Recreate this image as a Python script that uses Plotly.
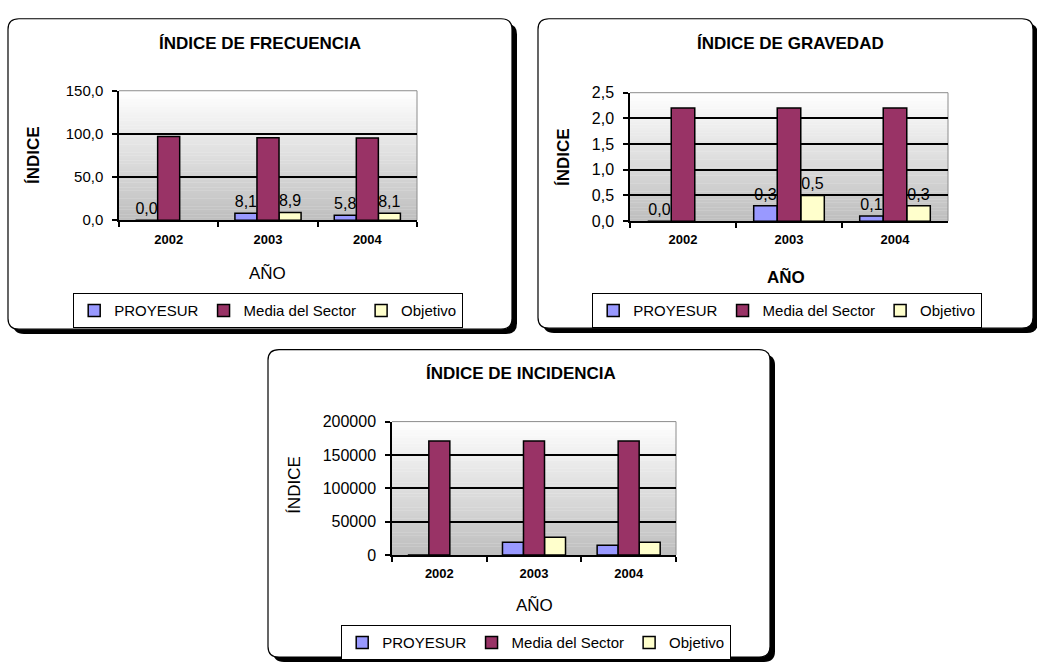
import plotly.graph_objects as go

# ---- data -------------------------------------------------------------
YEARS = ["2002", "2003", "2004"]
SERIES = ["PROYESUR", "Media del Sector", "Objetivo"]

# Índice de frecuencia
FREQ_PROYESUR = [0.0, 8.1, 5.8]
FREQ_MEDIA = [96.9, 95.6, 95.2]
FREQ_OBJETIVO = [None, 8.9, 8.1]
FREQ_TICKS = [0, 50, 100, 150]

# Índice de gravedad
GRAV_PROYESUR = [0.0, 0.3, 0.1]
GRAV_MEDIA = [2.2, 2.2, 2.2]
GRAV_OBJETIVO = [None, 0.5, 0.3]
GRAV_TICKS = [0, 0.5, 1.0, 1.5, 2.0, 2.5]

# Índice de incidencia
INC_PROYESUR = [0, 19000, 14500]
INC_MEDIA = [171000, 171000, 171000]
INC_OBJETIVO = [None, 26500, 19000]
INC_TICKS = [0, 50000, 100000, 150000, 200000]

# ---- styling ----------------------------------------------------------
W, H = 1037, 670
FONT = "Liberation Sans, Arial, sans-serif"
COLORS = {"PROYESUR": "#9999ff", "Media del Sector": "#993366", "Objetivo": "#ffffcc"}
RANK = {"PROYESUR": 1, "Media del Sector": 2, "Objetivo": 3}
BAR_W = 0.222
OFFSETS = {"PROYESUR": -0.333, "Media del Sector": -0.111, "Objetivo": 0.111}


def fx(px):
    return px / W


def fy(py):
    return 1 - py / H


PANELS = [
    dict(title="ÍNDICE DE FRECUENCIA", title_xy=(260, 35),
         ytitle="ÍNDICE", ytitle_xy=(34, 150), ytitle_bold=True,
         xtitle="AÑO", xtitle_xy=(267, 272), xtitle_bold=False,
         plot=(119, 84, 417, 217), frame=(8, 10, 512, 329),
         legend_xy=(268, 310),
         values=(FREQ_PROYESUR, FREQ_MEDIA, FREQ_OBJETIVO),
         ticks=FREQ_TICKS, tickformat=".1f", labels=True, tickfont=15),
    dict(title="ÍNDICE DE GRAVEDAD", title_xy=(790, 35),
         ytitle="ÍNDICE", ytitle_xy=(564, 152), ytitle_bold=True,
         xtitle="AÑO", xtitle_xy=(786, 275), xtitle_bold=True,
         plot=(630, 86, 948, 218), frame=(538, 10, 1033, 328),
         legend_xy=(787, 310),
         values=(GRAV_PROYESUR, GRAV_MEDIA, GRAV_OBJETIVO),
         ticks=GRAV_TICKS, tickformat=".1f", labels=True, tickfont=16),
    dict(title="ÍNDICE DE INCIDENCIA", title_xy=(521, 375),
         ytitle="ÍNDICE", ytitle_xy=(295, 489), ytitle_bold=False,
         xtitle="AÑO", xtitle_xy=(534, 613), xtitle_bold=False,
         plot=(392, 424, 676, 561), frame=(268, 350, 770, 666),
         legend_xy=(536, 651),
         values=(INC_PROYESUR, INC_MEDIA, INC_OBJETIVO),
         ticks=INC_TICKS, tickformat="d", labels=False, tickfont=16),
]


def rounded_path(x0, y0, x1, y1, r):
    pts = [
        ("M", (x0 + r, y0)), ("L", (x1 - r, y0)), ("Q", (x1, y0), (x1, y0 + r)),
        ("L", (x1, y1 - r)), ("Q", (x1, y1), (x1 - r, y1)),
        ("L", (x0 + r, y1)), ("Q", (x0, y1), (x0, y1 - r)),
        ("L", (x0, y0 + r)), ("Q", (x0, y0), (x0 + r, y0)),
    ]
    out = []
    for cmd, *coords in pts:
        out.append(cmd + " ".join(f"{fx(a):.5f},{fy(b):.5f}" for a, b in coords))
    return " ".join(out) + " Z"


fig = go.Figure()
shapes = []
annotations = []
layout = {}

for i, p in enumerate(PANELS, start=1):
    xa = "x" if i == 1 else f"x{i}"
    ya = "y" if i == 1 else f"y{i}"
    leg = "legend" if i == 1 else f"legend{i}"
    px0, py0, px1, py1 = p["plot"]

    # frame with drop shadow
    fx0, fy0, fx1, fy1 = p["frame"]
    shapes.append(dict(type="path", xref="paper", yref="paper", layer="below",
                       path=rounded_path(fx0 + 5, fy0 + 5, fx1 + 5, fy1 + 5, 11),
                       fillcolor="black", line=dict(width=0)))
    shapes.append(dict(type="path", xref="paper", yref="paper", layer="below",
                       path=rounded_path(fx0, fy0, fx1, fy1, 11),
                       fillcolor="white", line=dict(color="black", width=1.2)))

    # gradient plot background (grey at the bottom, white at the top)
    n = 48
    for k in range(n):
        t = (k + 0.5) / n
        g = int(round(190 + (255 - 190) * t))
        shapes.append(dict(type="rect", xref=f"{xa} domain", yref=f"{ya} domain",
                           layer="below", x0=0, x1=1, y0=k / n, y1=(k + 1) / n + 0.002,
                           fillcolor=f"rgb({g},{g},{g})", line=dict(width=0)))
    # grey border on top and right of the plot area
    shapes.append(dict(type="line", xref=f"{xa} domain", yref=f"{ya} domain",
                       layer="below", x0=0, x1=1, y0=1, y1=1,
                       line=dict(color="#8c8c8c", width=1)))
    shapes.append(dict(type="line", xref=f"{xa} domain", yref=f"{ya} domain",
                       layer="below", x0=1, x1=1, y0=0, y1=1,
                       line=dict(color="#8c8c8c", width=1)))

    vals = dict(zip(SERIES, p["values"]))
    # media bars drawn last so they sit on top of neighbouring labels
    for name in ["PROYESUR", "Objetivo", "Media del Sector"]:
        show_text = p["labels"] and name != "Media del Sector"
        fig.add_trace(go.Bar(
            x=YEARS, y=vals[name], name=name, xaxis=xa, yaxis=ya, legend=leg,
            legendrank=RANK[name], width=BAR_W, offset=OFFSETS[name],
            marker=dict(color=COLORS[name], line=dict(color="black", width=1.5)),
            texttemplate="%{y:.1f}" if show_text else None,
            textposition="outside" if show_text else "none",
            constraintext="none", cliponaxis=False,
            textfont=dict(family=FONT, size=16, color="black"),
            hoverinfo="skip",
        ))

    layout["xaxis" if i == 1 else f"xaxis{i}"] = dict(
        domain=[fx(px0), fx(px1)], anchor=ya, type="category",
        range=[-0.5, 2.5], showline=True, linecolor="black", linewidth=1.5,
        ticks="outside", tickson="boundaries", ticklen=5, tickwidth=1.5,
        tickcolor="black", showgrid=False, ticklabelstandoff=6,
        tickfont=dict(family=FONT, size=13, color="black", weight="bold"),
        fixedrange=True,
    )
    ticks = p["ticks"]
    layout["yaxis" if i == 1 else f"yaxis{i}"] = dict(
        domain=[fy(py1), fy(py0)], anchor=xa, range=[ticks[0], ticks[-1]],
        tickvals=ticks, tickformat=p["tickformat"], showline=True,
        linecolor="black", linewidth=1.5, ticks="outside", ticklen=5,
        tickwidth=1.5, tickcolor="black", showgrid=False, zeroline=False,
        minor=dict(tickvals=ticks[1:-1], showgrid=True, gridcolor="black",
                   gridwidth=1.5, ticks=""),
        ticklabelstandoff=6,
        tickfont=dict(family=FONT, size=p["tickfont"], color="black"),
        fixedrange=True,
    )
    layout[leg] = dict(
        orientation="h", x=fx(p["legend_xy"][0]), y=fy(p["legend_xy"][1]),
        xanchor="center", yanchor="middle", bgcolor="white",
        bordercolor="black", borderwidth=1.2, itemwidth=30,
        font=dict(family=FONT, size=15, color="black"),
    )

    annotations.append(dict(text=p["title"], xref="paper", yref="paper",
                            x=fx(p["title_xy"][0]), y=fy(p["title_xy"][1]),
                            xanchor="center", yanchor="middle", showarrow=False,
                            font=dict(family=FONT, size=17, color="black", weight="bold")))
    annotations.append(dict(text=p["ytitle"], xref="paper", yref="paper",
                            x=fx(p["ytitle_xy"][0]), y=fy(p["ytitle_xy"][1]),
                            xanchor="center", yanchor="middle", showarrow=False,
                            textangle=-90,
                            font=dict(family=FONT, size=17, color="black",
                                      weight="bold" if p["ytitle_bold"] else "normal")))
    annotations.append(dict(text=p["xtitle"], xref="paper", yref="paper",
                            x=fx(p["xtitle_xy"][0]), y=fy(p["xtitle_xy"][1]),
                            xanchor="center", yanchor="middle", showarrow=False,
                            font=dict(family=FONT, size=17, color="black",
                                      weight="bold" if p["xtitle_bold"] else "normal")))

fig.update_layout(
    width=W, height=H, margin=dict(l=0, r=0, t=0, b=0),
    paper_bgcolor="white", plot_bgcolor="white",
    barmode="overlay", separators=",.", showlegend=True,
    shapes=shapes, annotations=annotations,
    font=dict(family=FONT, color="black"),
    **layout,
)

fig.write_html("out.html")
